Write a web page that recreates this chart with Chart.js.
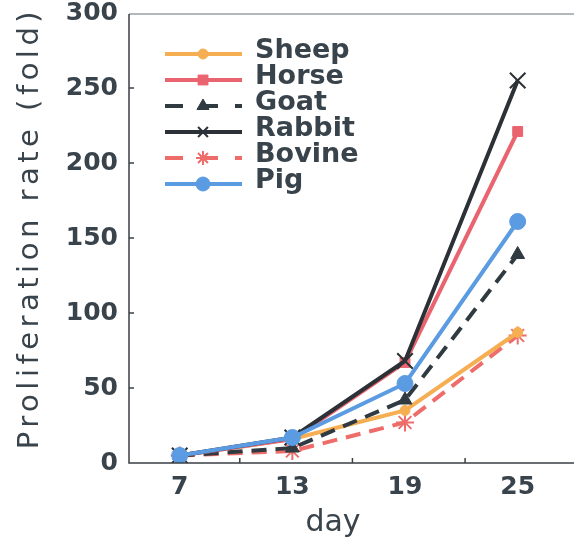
<!DOCTYPE html>
<html>
<head>
<meta charset="utf-8">
<script src="https://cdn.jsdelivr.net/npm/chart.js@4/dist/chart.umd.min.js"></script>
<style>
  html, body { margin: 0; padding: 0; background: #fff; }
  #wrap { width: 574px; height: 546px; position: relative; }
</style>
</head>
<body>
<div id="wrap"><canvas id="chart"></canvas></div>
<script>
// dados
const days = [7, 13, 19, 25];
const yTicks = [0, 50, 100, 150, 200, 250, 300];
const xMinorTicks = [10.2, 16.2, 22.2];

const sheep  = [5, 16, 35, 87];
const horse  = [5, 16, 67, 221];
const goat   = [5, 10, 42, 139];
const rabbit = [5, 17, 68, 255];
const bovine = [5, 8, 27, 85];
const pig    = [5, 17, 53, 161];

const textColor = '#39434b';

function pts(values) {
  return days.map((d, i) => ({ x: d, y: values[i] }));
}

function serie(label, values, color, style, radius, dash, order) {
  return {
    label: label,
    data: pts(values),
    borderColor: color,
    backgroundColor: color,
    borderWidth: 4,
    borderDash: dash || [],
    pointStyle: style,
    pointRadius: radius,
    pointBorderWidth: style === 'crossRot' || style === 'star' ? 2 : 1,
    pointBorderColor: color,
    pointBackgroundColor: color,
    tension: 0,
    order: order
  };
}

const datasets = [
  serie('Sheep', sheep, '#f6ae52', 'circle', 5, null, 4),
  serie('Horse', horse, '#ea6470', 'rect', 7, null, 2),
  serie('Goat', goat, '#2f3a41', 'triangle', 8, [15, 9], 3),
  serie('Rabbit', rabbit, '#2b3137', 'crossRot', 11, null, 1),
  serie('Bovine', bovine, '#ee6c6a', 'star', 9, [15, 9], 5),
  serie('Pig', pig, '#5b9be2', 'circle', 8, null, 0)
];

// desenha moldura, ticks internos, legenda e títulos
const decorPlugin = {
  id: 'decor',
  afterDraw(chart) {
    const ctx = chart.ctx;
    const a = chart.chartArea;
    const xs = chart.scales.x, ys = chart.scales.y;
    ctx.save();

    // moldura
    ctx.strokeStyle = '#9aa0a4';
    ctx.lineWidth = 1.5;
    ctx.beginPath();
    ctx.moveTo(a.left, a.top + 1);
    ctx.lineTo(a.right, a.top + 1);
    ctx.stroke();
    ctx.strokeStyle = '#3a3f44';
    ctx.beginPath();
    ctx.moveTo(a.left, a.top + 1);
    ctx.lineTo(a.left, a.bottom);
    ctx.lineTo(a.right, a.bottom);
    ctx.stroke();

    // ticks internos
    ctx.lineWidth = 1.5;
    yTicks.slice(1, -1).forEach(v => {
      const y = ys.getPixelForValue(v);
      ctx.beginPath();
      ctx.moveTo(a.left, y);
      ctx.lineTo(a.left + 5, y);
      ctx.stroke();
    });
    xMinorTicks.forEach(v => {
      const x = xs.getPixelForValue(v);
      ctx.beginPath();
      ctx.moveTo(x, a.bottom);
      ctx.lineTo(x, a.bottom - 5);
      ctx.stroke();
    });

    // legenda
    const x0 = 165, x1 = 242, rowTop = 54, rowStep = 26;
    chart.data.datasets.forEach((ds, i) => {
      const y = rowTop + i * rowStep;
      ctx.strokeStyle = ds.borderColor;
      ctx.lineWidth = 4;
      ctx.setLineDash(ds.borderDash.length ? [18, 17] : []);
      ctx.beginPath();
      ctx.moveTo(x0, y);
      ctx.lineTo(x1, y);
      ctx.stroke();
      ctx.setLineDash([]);
      ctx.fillStyle = ds.pointBackgroundColor;
      ctx.strokeStyle = ds.pointBorderColor;
      ctx.lineWidth = ds.pointBorderWidth;
      Chart.helpers.drawPoint(ctx, {
        pointStyle: ds.pointStyle,
        radius: Math.min(ds.pointRadius, 7),
        rotation: 0,
        borderWidth: ds.pointBorderWidth
      }, 203, y);
      ctx.fillStyle = textColor;
      ctx.font = 'bold 27px "DejaVu Sans"';
      ctx.textAlign = 'left';
      ctx.textBaseline = 'alphabetic';
      ctx.fillText(ds.label, 255, y + 4);
    });

    // títulos dos eixos
    ctx.fillStyle = textColor;
    ctx.textAlign = 'center';
    ctx.textBaseline = 'middle';
    ctx.font = '30px "DejaVu Sans"';
    ctx.fillText('day', 333, 523);
    ctx.translate(30, 228);
    ctx.rotate(-Math.PI / 2);
    ctx.letterSpacing = '4.5px';
    ctx.font = '29px "DejaVu Sans"';
    ctx.fillText('Proliferation rate (fold)', 0, 0);
    ctx.restore();
  }
};

new Chart(document.getElementById('chart').getContext('2d'), {
  type: 'line',
  data: { datasets: datasets },
  options: {
    responsive: true,
    maintainAspectRatio: false,
    animation: false,
    layout: { autoPadding: false, padding: { top: 13, right: 0, left: 0, bottom: 0 } },
    plugins: { legend: { display: false }, tooltip: { enabled: false } },
    scales: {
      x: {
        type: 'linear',
        min: 4.3,
        max: 28,
        afterBuildTicks: s => { s.ticks = days.map(v => ({ value: v })); },
        afterFit: s => { s.height = 83; s.paddingLeft = 0; s.paddingRight = 0; },
        grid: { display: false, drawTicks: false },
        border: { display: false },
        ticks: {
          padding: 9,
          color: textColor,
          font: { family: 'DejaVu Sans', size: 25, weight: 'bold' },
          maxRotation: 0
        }
      },
      y: {
        min: 0,
        max: 300,
        afterBuildTicks: s => { s.ticks = yTicks.map(v => ({ value: v })); },
        afterFit: s => { s.width = 129; s.paddingTop = 0; s.paddingBottom = 0; },
        grid: { display: false, drawTicks: false },
        border: { display: false },
        ticks: {
          padding: 11,
          color: textColor,
          font: { family: 'DejaVu Sans', size: 25, weight: 'bold' }
        }
      }
    }
  },
  plugins: [decorPlugin]
});
</script>
</body>
</html>
